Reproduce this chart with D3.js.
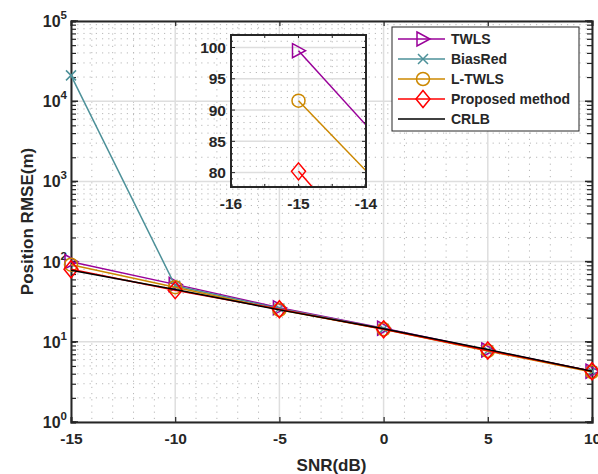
<!DOCTYPE html>
<html><head><meta charset="utf-8">
<script src="https://cdn.jsdelivr.net/npm/d3@7"></script>
<style>
body{margin:0;background:#fff;}
text{font-family:"Liberation Sans",Arial,sans-serif;font-weight:bold;fill:#262626;}
</style></head>
<body><svg id="c" width="598" height="474"></svg>
<script>
// ---- data ----
const snr = [-15, -10, -5, 0, 5, 10];
const twls = [99.5, 52, 26.5, 14.8, 7.9, 4.3];
const biasRed = [21000, 50, 26, 14.5, 7.8, 4.3];
const ltwls = [91.5, 48, 25, 14.3, 7.7, 4.2];
const proposed = [80.2, 44, 25.5, 14.3, 7.8, 4.3];
const crlb = [78, 45, 25, 14.5, 8.0, 4.3];
const xTicks = [-15, -10, -5, 0, 5, 10];
const yTickExps = [0, 1, 2, 3, 4, 5];
// inset (zoomed view, read at -15 and at right edge -14)
const insetSnr = [-15, -14];
const insetTwls = [99.5, 87.6];
const insetLtwls = [91.5, 80.3];
const insetProposed = [80.2, 68];
const insetCrlb = [77.9, 66];
const insetXTicks = [-16, -15, -14];
const insetYTicks = [80, 85, 90, 95, 100];
const legendNames = ["TWLS", "BiasRed", "L-TWLS", "Proposed method", "CRLB"];

const colors = {twls:"#990099", bias:"#4D9199", ltwls:"#CC8800", prop:"#FF0000", crlb:"#000000"};

const svg = d3.select("#c");
const L=71, R=592, T=21, B=422;
const x = d3.scaleLinear().domain([-15,10]).range([L,R]);
const y = d3.scaleLog().domain([1,1e5]).range([B,T]);
const axisColor = "#262626";
const tickFont = 15.5;

// grid
const g = svg.append("g");
for (let e=0;e<5;e++) for (let m=2;m<=9;m++){
  const v=m*Math.pow(10,e);
  g.append("line").attr("x1",L).attr("x2",R).attr("y1",y(v)).attr("y2",y(v))
   .attr("stroke","#b8b8b8").attr("stroke-width",1).attr("stroke-dasharray","1.2,5");
}
for (let v=-14; v<10; v++){ if (v%5===0) continue;
  g.append("line").attr("x1",x(v)).attr("x2",x(v)).attr("y1",T).attr("y2",B)
   .attr("stroke","#b8b8b8").attr("stroke-width",1).attr("stroke-dasharray","1.2,5");
}
yTickExps.forEach(e=>{ g.append("line").attr("x1",L).attr("x2",R).attr("y1",y(Math.pow(10,e))).attr("y2",y(Math.pow(10,e))).attr("stroke","#dedede").attr("stroke-width",1.5);});
xTicks.forEach(v=>{ g.append("line").attr("x1",x(v)).attr("x2",x(v)).attr("y1",T).attr("y2",B).attr("stroke","#dedede").attr("stroke-width",1.5);});

// axes
const xAxB = d3.axisBottom(x).tickValues(xTicks).tickSize(-5).tickFormat(d=>d);
const xAxT = d3.axisTop(x).tickValues(xTicks).tickSize(-5).tickFormat("");
const yTickVals=[]; for(let e=0;e<5;e++) for(let m=1;m<=9;m++) yTickVals.push(m*Math.pow(10,e)); yTickVals.push(1e5);
const yAxL = d3.axisLeft(y).tickValues(yTickVals).tickSize(-5).tickFormat("");
const yAxR = d3.axisRight(y).tickValues(yTickVals).tickSize(-5).tickFormat("");
function styleAxis(sel){ sel.selectAll("path").attr("stroke",axisColor).attr("stroke-width",2);
  sel.selectAll("line").attr("stroke",axisColor).attr("stroke-width",1.2);}
const ab = svg.append("g").attr("transform",`translate(0,${B})`).call(xAxB); styleAxis(ab);
ab.selectAll("text").attr("font-size",tickFont).attr("fill",axisColor).attr("dy","1.2em");
styleAxis(svg.append("g").attr("transform",`translate(0,${T})`).call(xAxT));
styleAxis(svg.append("g").attr("transform",`translate(${L},0)`).call(yAxL));
styleAxis(svg.append("g").attr("transform",`translate(${R},0)`).call(yAxR));
yTickExps.forEach(e=>{
  const yy=y(Math.pow(10,e));
  svg.append("line").attr("x1",L).attr("x2",L+7).attr("y1",yy).attr("y2",yy).attr("stroke",axisColor).attr("stroke-width",1.5);
  svg.append("line").attr("x1",R).attr("x2",R-7).attr("y1",yy).attr("y2",yy).attr("stroke",axisColor).attr("stroke-width",1.5);
  const t=svg.append("text").attr("x",L-4).attr("y",yy+6).attr("text-anchor","end").attr("font-size",tickFont+0.5);
  t.append("tspan").text("10");
  t.append("tspan").attr("font-size",11.5).attr("dy",-8).text(e);
});

// axis labels
svg.append("text").attr("x",(L+R)/2).attr("y",471).attr("text-anchor","middle").attr("font-size",17).text("SNR(dB)");
svg.append("text").attr("transform",`translate(33,${(T+B)/2}) rotate(-90)`).attr("text-anchor","middle").attr("font-size",17).text("Position RMSE(m)");

// markers
function marker(sel, type, color, cx, cy){
  if(type==="tri"){ sel.append("path").attr("d",`M${cx-6},${cy-7}L${cx+7},${cy}L${cx-6},${cy+7}Z`).attr("fill","none").attr("stroke",color).attr("stroke-width",1.5);}
  else if(type==="x"){ sel.append("path").attr("d",`M${cx-5},${cy-5}L${cx+5},${cy+5}M${cx-5},${cy+5}L${cx+5},${cy-5}`).attr("stroke",color).attr("stroke-width",1.5);}
  else if(type==="circ"){ sel.append("circle").attr("cx",cx).attr("cy",cy).attr("r",6.5).attr("fill","none").attr("stroke",color).attr("stroke-width",1.5);}
  else if(type==="dia"){ sel.append("path").attr("d",`M${cx},${cy-8.5}L${cx+7},${cy}L${cx},${cy+8.5}L${cx-7},${cy}Z`).attr("fill","none").attr("stroke",color).attr("stroke-width",1.5);}
}
const series = [
  {vals:twls, color:colors.twls, m:"tri"},
  {vals:biasRed, color:colors.bias, m:"x"},
  {vals:ltwls, color:colors.ltwls, m:"circ"},
  {vals:proposed, color:colors.prop, m:"dia"},
  {vals:crlb, color:colors.crlb, m:null}
];
const line = d3.line().x((d,i)=>x(snr[i])).y(d=>y(d));
const plotG = svg.append("g");
series.forEach(s=>{
  plotG.append("path").datum(s.vals).attr("d",line).attr("fill","none").attr("stroke",s.color).attr("stroke-width",1.5);
  if(s.m) s.vals.forEach((v,i)=>marker(plotG,s.m,s.color,x(snr[i]),y(v)));
});

// legend
const lg = svg.append("g");
lg.append("rect").attr("x",392).attr("y",27).attr("width",187).attr("height",104).attr("fill","#fff").attr("stroke",axisColor).attr("stroke-width",1);
series.forEach((s,i)=>{
  const yy=39+i*20;
  lg.append("line").attr("x1",398).attr("x2",445).attr("y1",yy).attr("y2",yy).attr("stroke",s.color).attr("stroke-width",1.5);
  if(s.m) marker(lg,s.m,s.color,423,yy);
  lg.append("text").attr("x",451).attr("y",yy+5).attr("font-size",14).attr("fill","#000").text(legendNames[i]);
});

// inset
const iL=231, iR=366, iT=35, iB=187;
const ix = d3.scaleLinear().domain([-16,-14]).range([iL,iR]);
const iy = d3.scaleLinear().domain([77.7,102]).range([iB,iT]);
const ig = svg.append("g");
ig.append("rect").attr("x",iL).attr("y",iT).attr("width",iR-iL).attr("height",iB-iT).attr("fill","#fff");
for(let v=78; v<=102; v++){ if(v%5===0) continue;
  ig.append("line").attr("x1",iL).attr("x2",iR).attr("y1",iy(v)).attr("y2",iy(v)).attr("stroke","#b8b8b8").attr("stroke-dasharray","1.2,5");}
[-15.5,-14.5].forEach(v=>ig.append("line").attr("x1",ix(v)).attr("x2",ix(v)).attr("y1",iT).attr("y2",iB).attr("stroke","#b8b8b8").attr("stroke-dasharray","1.2,5"));
insetYTicks.forEach(v=>ig.append("line").attr("x1",iL).attr("x2",iR).attr("y1",iy(v)).attr("y2",iy(v)).attr("stroke","#dedede").attr("stroke-width",1.5));
insetXTicks.forEach(v=>ig.append("line").attr("x1",ix(v)).attr("x2",ix(v)).attr("y1",iT).attr("y2",iB).attr("stroke","#dedede").attr("stroke-width",1.5));
svg.append("clipPath").attr("id","ic").append("rect").attr("x",iL).attr("y",iT).attr("width",iR-iL).attr("height",iB-iT);
const ip = ig.append("g").attr("clip-path","url(#ic)");
const iline = d3.line().x((d,i)=>ix(insetSnr[i])).y(d=>iy(d));
const iSeries=[{v:insetTwls,c:colors.twls,m:"tri"},{v:insetLtwls,c:colors.ltwls,m:"circ"},{v:insetProposed,c:colors.prop,m:"dia"},{v:insetCrlb,c:colors.crlb,m:null}];
iSeries.forEach(s=>{
  ip.append("path").datum(s.v).attr("d",iline).attr("fill","none").attr("stroke",s.c).attr("stroke-width",1.5);
  if(s.m) marker(ip,s.m,s.c,ix(insetSnr[0]),iy(s.v[0]));
});
ig.append("rect").attr("x",iL).attr("y",iT).attr("width",iR-iL).attr("height",iB-iT).attr("fill","none").attr("stroke",axisColor).attr("stroke-width",2);
for(let v=78; v<=102; v++){ const yy=iy(v);
  ig.append("line").attr("x1",iL).attr("x2",iL+(v%5===0?4:2)).attr("y1",yy).attr("y2",yy).attr("stroke",axisColor);
  ig.append("line").attr("x1",iR).attr("x2",iR-(v%5===0?4:2)).attr("y1",yy).attr("y2",yy).attr("stroke",axisColor);}
for(let v=-16; v<=-14; v+=0.5){ const xx=ix(v);
  ig.append("line").attr("x1",xx).attr("x2",xx).attr("y1",iB).attr("y2",iB-3).attr("stroke",axisColor);
  ig.append("line").attr("x1",xx).attr("x2",xx).attr("y1",iT).attr("y2",iT+3).attr("stroke",axisColor);}
insetYTicks.forEach(v=>ig.append("text").attr("x",iL-5).attr("y",iy(v)+5.5).attr("text-anchor","end").attr("font-size",tickFont).text(v));
insetXTicks.forEach(v=>ig.append("text").attr("x",ix(v)).attr("y",iB+22).attr("text-anchor","middle").attr("font-size",tickFont).text(v));
</script></body></html>
